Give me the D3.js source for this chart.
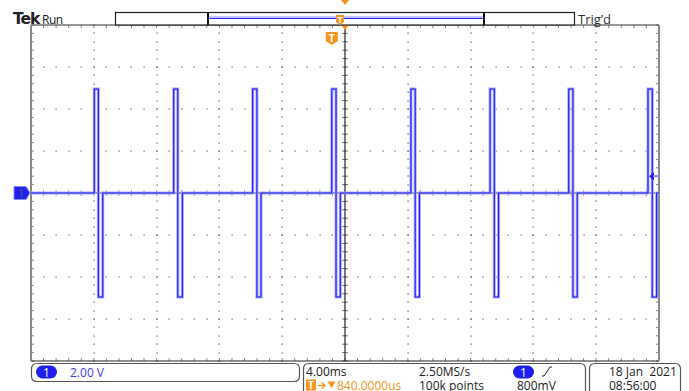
<!DOCTYPE html>
<html><head><meta charset="utf-8">
<script src="https://cdn.jsdelivr.net/npm/d3@7"></script>
<style>
html,body{margin:0;padding:0;background:#fff;}
svg{display:block;font-family:"Open Sans","Noto Sans",sans-serif;}
</style></head>
<body>
<script>
// ---- data ----
const pulseStart = [-15.13, -10.07, -5.04, 0.0, 5.04, 10.08, 15.09, 20.14]; // ms, rising edge, rel. trigger
const posWidth   = [0.26, 0.26, 0.27, 0.27, 0.27, 0.27, 0.27, 0.27];       // ms
const negWidth   = [0.28, 0.29, 0.26, 0.27, 0.27, 0.27, 0.27, 0.28];       // ms
const highLevel  = [4.95, 4.95, 4.95, 4.95, 4.95, 4.95, 4.95, 4.95];       // V
const lowLevel   = [-4.95, -4.95, -4.95, -4.95, -4.95, -4.95, -4.95, -4.95]; // V
const timePerDiv = 4.0;      // ms/div
const voltsPerDiv = 2.0;     // V/div
const horizPos = 0.84;       // ms (840 us)
const trigLevel = 0.8;       // V
const hDivs = 10, vDivs = 8, minorPerDiv = 5;
const labels = {
  ch: "1", scale: "2.00 V", tdiv: "4.00ms", pos: "840.0000us",
  rate: "2.50MS/s", points: "100k points", trig: "800mV",
  date: "18 Jan  2021", time: "08:56:00", state: "Trig\u2019d", run: "Run"
};

const W = 689, H = 391;
const L = 31, R = 659, T = 25, B = 361;
const svg = d3.select("body").append("svg").attr("width", W).attr("height", H);

const x = d3.scaleLinear()
  .domain([horizPos - timePerDiv * hDivs / 2, horizPos + timePerDiv * hDivs / 2])
  .range([L, R]);
const y = d3.scaleLinear()
  .domain([-voltsPerDiv * vDivs / 2, voltsPerDiv * vDivs / 2])
  .range([B, T]);

const grid = svg.append("g");
const xMajor = d3.range(1, hDivs).map(k => x.domain()[0] + k * timePerDiv);
const yMajor = d3.range(1, vDivs).map(k => y.domain()[0] + k * voltsPerDiv);
const xMinor = d3.range(0, hDivs * minorPerDiv + 1).map(k => x.domain()[0] + k * timePerDiv / minorPerDiv);
const yMinor = d3.range(0, vDivs * minorPerDiv + 1).map(k => y.domain()[0] + k * voltsPerDiv / minorPerDiv);
const cx = x(horizPos), cy = y(0);

xMajor.forEach(t => {
  if (Math.abs(x(t) - cx) < 1) return;
  yMinor.forEach(v => grid.append("rect").attr("x", Math.round(x(t)) - 0.5).attr("y", Math.round(y(v)) - 0.5)
    .attr("width", 1.2).attr("height", 1.2).attr("fill", "#555"));
});
yMajor.forEach(v => {
  if (Math.abs(y(v) - cy) < 1) return;
  xMinor.forEach(t => grid.append("rect").attr("x", Math.round(x(t)) - 0.5).attr("y", Math.round(y(v)) - 0.5)
    .attr("width", 1.2).attr("height", 1.2).attr("fill", "#666"));
});
xMinor.forEach(t => grid.append("line").attr("x1", x(t)).attr("x2", x(t)).attr("y1", cy - 3).attr("y2", cy + 3)
  .attr("stroke", "#999").attr("stroke-width", 1));
yMinor.forEach(v => grid.append("line").attr("x1", cx - 3).attr("x2", cx + 3).attr("y1", y(v)).attr("y2", y(v))
  .attr("stroke", "#777").attr("stroke-width", 1));
xMinor.forEach(t => {
  grid.append("line").attr("x1", x(t)).attr("x2", x(t)).attr("y1", T).attr("y2", T + 3).attr("stroke", "#888");
  grid.append("line").attr("x1", x(t)).attr("x2", x(t)).attr("y1", B - 3).attr("y2", B).attr("stroke", "#888");
});
yMinor.forEach(v => {
  grid.append("line").attr("x1", L).attr("x2", L + 3).attr("y1", y(v)).attr("y2", y(v)).attr("stroke", "#888");
  grid.append("line").attr("x1", R - 3).attr("x2", R).attr("y1", y(v)).attr("y2", y(v)).attr("stroke", "#888");
});
grid.append("line").attr("x1", cx).attr("x2", cx).attr("y1", T).attr("y2", B).attr("stroke", "#222").attr("stroke-width", 1.2);
grid.append("line").attr("x1", L).attr("x2", R).attr("y1", cy).attr("y2", cy).attr("stroke", "#333").attr("stroke-width", 1.2);
grid.append("line").attr("x1", L).attr("x2", R).attr("y1", T).attr("y2", T).attr("stroke", "#333").attr("stroke-width", 1.2);
grid.append("line").attr("x1", L).attr("x2", R).attr("y1", B).attr("y2", B).attr("stroke", "#222").attr("stroke-width", 1.2);
grid.append("line").attr("x1", L).attr("x2", L).attr("y1", T).attr("y2", B).attr("stroke", "#888").attr("stroke-width", 2);
grid.append("line").attr("x1", R).attr("x2", R).attr("y1", T).attr("y2", B).attr("stroke", "#888").attr("stroke-width", 2);

// ---- trace ----
const pts = [[x.domain()[0], 0]];
pulseStart.forEach((t0, i) => {
  const t1 = t0 + posWidth[i], t2 = t1 + negWidth[i];
  pts.push([t0, 0], [t0, highLevel[i]], [t1, highLevel[i]], [t1, lowLevel[i]], [t2, lowLevel[i]], [t2, 0]);
});
pts.push([x.domain()[1], 0]);
const line = d3.line().x(d => x(d[0])).y(d => y(d[1]));
svg.append("path").attr("d", line(pts)).attr("fill", "none").attr("stroke", "#a9a9ff").attr("stroke-width", 3);
svg.append("path").attr("d", line(pts)).attr("fill", "none").attr("stroke", "#1818f2").attr("stroke-width", 1.1);

// ---- channel marker (left) ----
const chMarkY = y(0);
svg.append("path").attr("d", `M14,${chMarkY - 6.5} H26 L30,${chMarkY} L26,${chMarkY + 6.5} H14 Z`)
  .attr("fill", "#1f1ff0").attr("stroke", "#8888ff").attr("stroke-width", 1);
svg.append("text").attr("x", 21).attr("y", chMarkY + 4.5).attr("text-anchor", "middle")
  .attr("font-size", 12).attr("fill", "#555").text(labels.ch);

// trigger level marker (right)
const tlY = y(trigLevel);
svg.append("path").attr("d", `M649,${tlY} L654,${tlY - 4} L654,${tlY + 4} Z`).attr("fill", "#1c1cf0");
svg.append("line").attr("x1", 653).attr("x2", 659).attr("y1", tlY).attr("y2", tlY).attr("stroke", "#8888ff").attr("stroke-width", 2);

// trigger marker "T" in graticule
const tx = x(0);
const orange = "#f7931e";
svg.append("path").attr("d", `M${tx - 6},32 H${tx + 6} V41 L${tx},45 L${tx - 6},41 Z`).attr("fill", orange);
svg.append("text").attr("x", tx).attr("y", 42).attr("text-anchor", "middle").attr("font-size", 11)
  .attr("font-weight", "bold").attr("fill", "#fff").text("T");
svg.append("path").attr("d", `M${cx - 4},${T} H${cx + 4} L${cx},${T + 5} Z`).attr("fill", orange);
svg.append("path").attr("d", `M${cx - 4},0 H${cx + 4} L${cx},5 Z`).attr("fill", orange);

// ---- top record bar ----
svg.append("rect").attr("x", 115.5).attr("y", 12.5).attr("width", 459).attr("height", 12.5)
  .attr("fill", "#fff").attr("stroke", "#222").attr("stroke-width", 1.2);
svg.append("line").attr("x1", 208).attr("x2", 484).attr("y1", 17).attr("y2", 17).attr("stroke", "#b0b0ff").attr("stroke-width", 1.5);
svg.append("line").attr("x1", 208).attr("x2", 484).attr("y1", 18.5).attr("y2", 18.5).attr("stroke", "#2a2af0").attr("stroke-width", 1.2);
[208, 484].forEach(v => svg.append("line").attr("x1", v).attr("x2", v).attr("y1", 12).attr("y2", 25)
  .attr("stroke", "#111").attr("stroke-width", 2));
svg.append("path").attr("d", `M336,15 H344 V22 L340,25 L336,22 Z`).attr("fill", orange);
svg.append("text").attr("x", 340).attr("y", 22.5).attr("text-anchor", "middle").attr("font-size", 8)
  .attr("font-weight", "bold").attr("fill", "#fff").text("T");

svg.append("text").attr("x", 13).attr("y", 24).attr("font-family", "DejaVu Sans")
  .attr("font-size", 15.5).attr("font-weight", "bold").attr("letter-spacing", -1).attr("fill", "#222").text("Tek");
svg.append("text").attr("x", 42).attr("y", 23.5).attr("font-size", 12).attr("fill", "#222")
  .attr("letter-spacing", -0.5).text(labels.run);
svg.append("text").attr("x", 578).attr("y", 23.5).attr("font-size", 13).attr("fill", "#333").text(labels.state);

// ---- bottom readouts ----
const boxStroke = "#555";
svg.append("path").attr("d", "M37,363.5 H294 Q299.5,363.5 299.5,369 V376 Q299.5,381.5 294,381.5 H37 Q31.5,381.5 31.5,376 V369 Q31.5,363.5 37,363.5 Z")
  .attr("fill", "none").attr("stroke", boxStroke).attr("stroke-width", 1.2);
svg.append("path").attr("d", "M303.5,392 V369 Q303.5,363.5 309,363.5 H580 Q585.5,363.5 585.5,369 V392")
  .attr("fill", "none").attr("stroke", boxStroke).attr("stroke-width", 1.2);
svg.append("path").attr("d", "M589.5,392 V369 Q589.5,363.5 595,363.5 H675 Q680.5,363.5 680.5,369 V392")
  .attr("fill", "none").attr("stroke", boxStroke).attr("stroke-width", 1.2);

function chBadge(xc, yc) {
  svg.append("rect").attr("x", xc - 10.5).attr("y", yc - 6.5).attr("width", 21).attr("height", 13)
    .attr("rx", 6.5).attr("fill", "#1f1ff0");
  svg.append("text").attr("x", xc).attr("y", yc + 4.5).attr("text-anchor", "middle")
    .attr("font-size", 12).attr("fill", "#fff").text(labels.ch);
}
chBadge(46.5, 372);
svg.append("text").attr("x", 70).attr("y", 377).attr("font-size", 12).attr("fill", "#3c3cf0").text(labels.scale);

svg.append("text").attr("x", 306).attr("y", 376).attr("font-size", 12).attr("fill", "#222").text(labels.tdiv);
// orange position readout: T-box, arrow, down triangle
svg.append("rect").attr("x", 306).attr("y", 379.5).attr("width", 10).attr("height", 11).attr("fill", orange);
svg.append("text").attr("x", 311).attr("y", 389).attr("text-anchor", "middle").attr("font-size", 10)
  .attr("font-weight", "bold").attr("fill", "#fff").text("T");
svg.append("path").attr("d", "M318,385.5 H325 M322,382.5 L325,385.5 L322,388.5").attr("fill", "none")
  .attr("stroke", orange).attr("stroke-width", 1.3);
svg.append("path").attr("d", "M327.5,381.5 H335.5 L331.5,388 Z").attr("fill", orange);
svg.append("text").attr("x", 337).attr("y", 390).attr("font-size", 12).attr("fill", orange).text(labels.pos);

svg.append("text").attr("x", 419).attr("y", 376).attr("font-size", 12).attr("fill", "#222").text(labels.rate);
svg.append("text").attr("x", 419).attr("y", 390).attr("font-size", 12).attr("fill", "#222").text(labels.points);

chBadge(523.5, 372);
svg.append("path").attr("d", "M542,376 H544 L550,367 H552").attr("fill", "none").attr("stroke", "#222").attr("stroke-width", 1);
svg.append("text").attr("x", 517).attr("y", 390).attr("font-size", 12).attr("fill", "#222").text(labels.trig);

svg.append("text").attr("x", 609).attr("y", 376).attr("font-size", 12).attr("fill", "#222")
  .style("white-space", "pre").text(labels.date);
svg.append("text").attr("x", 609).attr("y", 390).attr("font-size", 12).attr("fill", "#222").text(labels.time);
</script>
</body></html>
